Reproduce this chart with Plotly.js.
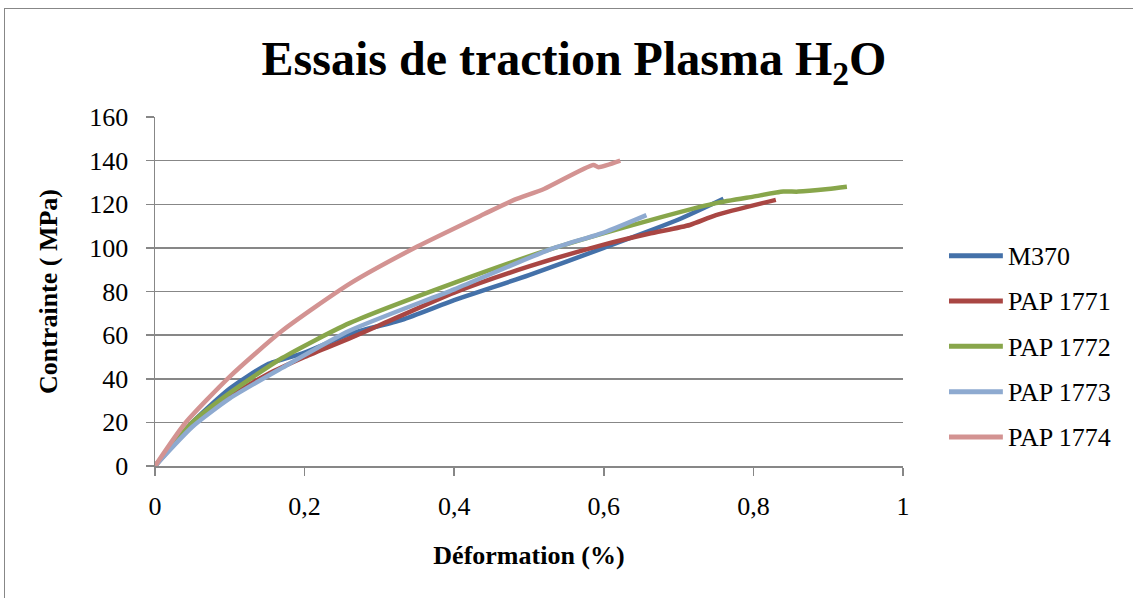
<!DOCTYPE html>
<html><head><meta charset="utf-8">
<script src="https://cdn.plot.ly/plotly-3.0.1.min.js"></script>
<style>
html,body{margin:0;padding:0;background:#fff;overflow:hidden;}
#frame{position:absolute;left:4px;top:8px;width:1140px;height:600px;border:1.5px solid #878787;box-sizing:border-box;}
#chart{position:absolute;left:0;top:0;width:1133px;height:598px;}
</style></head>
<body>
<div id="frame"></div>
<div id="chart"></div>
<script>
const seriesNames = ["M370", "PAP 1771", "PAP 1772", "PAP 1773", "PAP 1774"];
const colors = ["#4471a9", "#a94643", "#88a64b", "#8eaad0", "#d39392"];

const x_M370 = [0, 0.05, 0.1, 0.15, 0.2, 0.26, 0.33, 0.4, 0.5, 0.6, 0.7, 0.76];
const y_M370 = [0, 20, 35.5, 46.5, 52, 60.5, 67, 76, 87.5, 100, 113, 122.5];

const x_1771 = [0, 0.05, 0.1, 0.15, 0.2, 0.26, 0.3, 0.4, 0.5, 0.6, 0.66, 0.715, 0.75, 0.83];
const y_1771 = [0, 19, 31.5, 42, 50, 58.5, 64.5, 79.5, 91.5, 101.5, 106.5, 110.5, 115, 122];

const x_1772 = [0, 0.05, 0.1, 0.17, 0.26, 0.4, 0.53, 0.66, 0.75, 0.8, 0.84, 0.86, 0.9, 0.925];
const y_1772 = [0, 20, 33.5, 49.5, 65.5, 84, 99.5, 112.5, 120.5, 123.5, 125.8, 125.8, 127, 128];

const x_1773 = [0, 0.05, 0.1, 0.17, 0.26, 0.4, 0.53, 0.6, 0.657];
const y_1773 = [0, 18, 31, 45, 62, 81, 99.5, 107, 115];

const x_1774 = [0, 0.04, 0.1, 0.17, 0.26, 0.35, 0.44, 0.48, 0.52, 0.586, 0.593, 0.622];
const y_1774 = [0, 19.5, 41, 62, 83.5, 100.5, 115.5, 122, 127, 138, 137, 140];

const xs = [x_M370, x_1771, x_1772, x_1773, x_1774];
const ys = [y_M370, y_1771, y_1772, y_1773, y_1774];

const yTicks = [0, 20, 40, 60, 80, 100, 120, 140, 160];
const xTicks = [0, 0.2, 0.4, 0.6, 0.8, 1];

const font = "'Liberation Serif', 'Times New Roman', serif";

const traces = seriesNames.map((n, i) => ({
  type: "scatter", mode: "lines", name: n,
  x: xs[i], y: ys[i],
  line: {color: colors[i], width: 4.5, shape: "spline", smoothing: 0.6}
}));

// manual legend (line sample + label), positioned in paper coordinates
const legendY = [0.6026, 0.4728, 0.3430, 0.2129, 0.0831];
const shapes = seriesNames.map((n, i) => ({
  type: "line", xref: "paper", yref: "paper",
  x0: 1.0615, x1: 1.1335, y0: legendY[i], y1: legendY[i],
  line: {color: colors[i], width: 5}
}));
const annotations = seriesNames.map((n, i) => ({
  text: n, xref: "paper", yref: "paper", x: 1.138, y: legendY[i],
  xanchor: "left", yanchor: "middle", showarrow: false, yshift: -1,
  font: {family: font, size: 26, color: "#000"}
}));

const layout = {
  width: 1133, height: 598,
  paper_bgcolor: "rgba(0,0,0,0)", plot_bgcolor: "rgba(0,0,0,0)",
  margin: {l: 155, r: 230, t: 117, b: 132},
  separators: ", ",
  font: {family: font, color: "#000", size: 26},
  showlegend: false,
  shapes: shapes,
  annotations: annotations,
  title: {text: "<b>Essais de traction Plasma H<sub>2</sub>O</b>", font: {family: font, size: 48, color: "#000"},
          x: 0.5066, xref: "container", xanchor: "center", y: 0.903, yref: "container", yanchor: "middle"},
  xaxis: {range: [0, 1], tickvals: xTicks, ticktext: xTicks.map(v => String(v).replace(".", ",")),
          showgrid: false, zeroline: false, showline: true, linecolor: "#878787", linewidth: 1.5,
          ticks: "outside", ticklen: 8, tickcolor: "#878787", tickwidth: 1.5,
          tickfont: {family: font, size: 26}, fixedrange: true, ticklabelstandoff: 8,
          title: {text: "<b>Déformation (%)</b>", font: {family: font, size: 26}, standoff: 26}},
  yaxis: {range: [0, 160], tickvals: yTicks, showgrid: true, gridcolor: "#878787", gridwidth: 1.5,
          zeroline: false, showline: true, linecolor: "#878787", linewidth: 1.5,
          ticks: "outside", ticklen: 8, tickcolor: "#878787", tickwidth: 1.5,
          tickfont: {family: font, size: 26}, fixedrange: true, ticklabelstandoff: 12,
          title: {text: "<b>Contrainte ( MPa)</b>", font: {family: font, size: 26}, standoff: 24}}
};

Plotly.newPlot("chart", traces, layout, {displayModeBar: false, staticPlot: true});
</script>
</body></html>
